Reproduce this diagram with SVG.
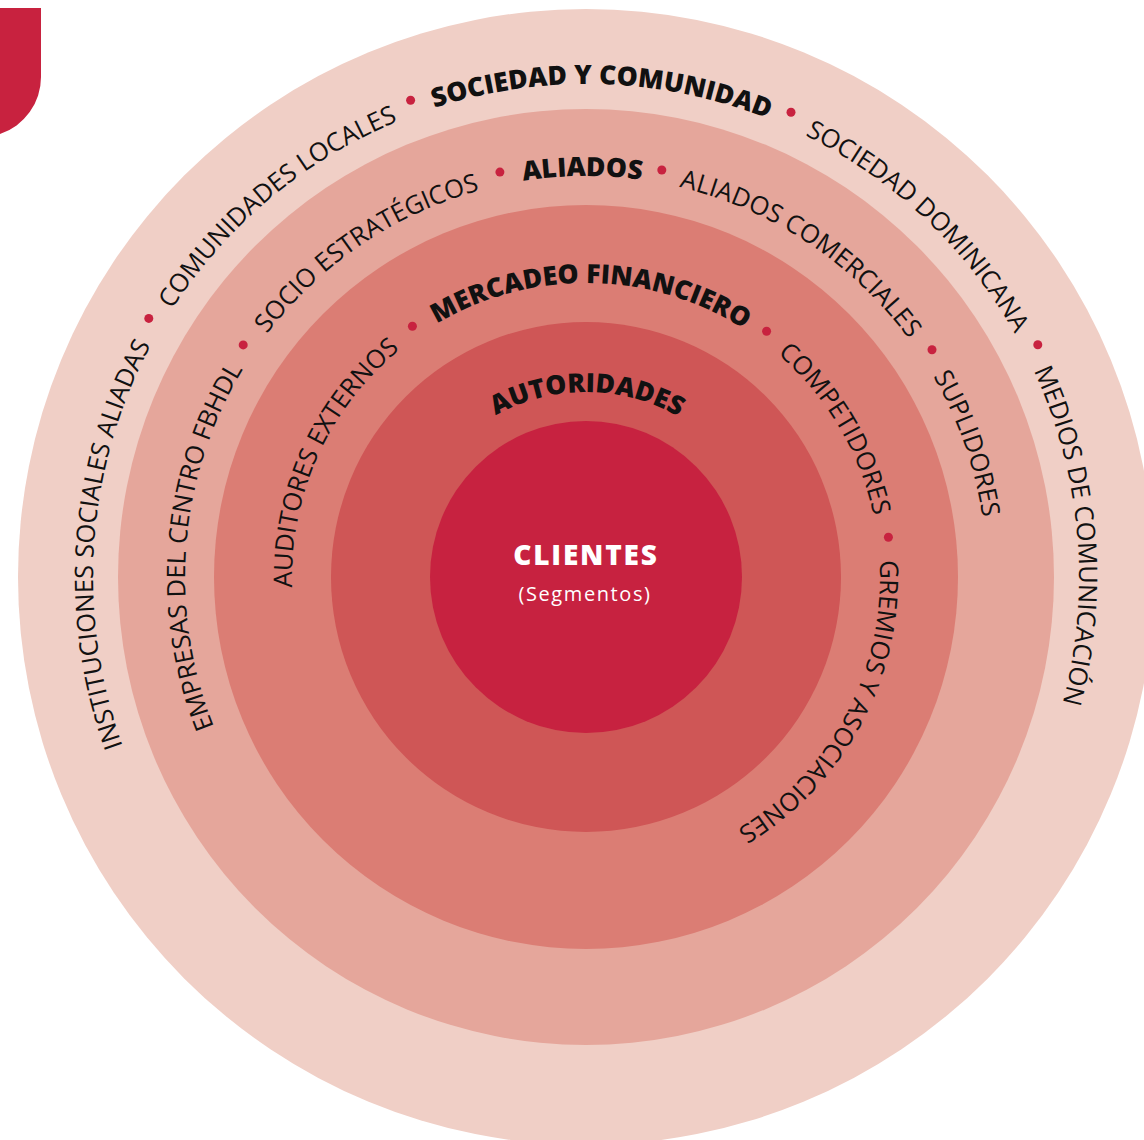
<svg xmlns="http://www.w3.org/2000/svg" xmlns:xlink="http://www.w3.org/1999/xlink" width="1144" height="1140" viewBox="0 0 1144 1140">
<style>
.lbl{font-family:"Open Sans","Liberation Sans",sans-serif;font-size:25.5px;fill:#111;}
.b{font-weight:800;font-size:26.5px;}
.dot{fill:#C8223F;}
</style>
<defs>
<path id="p1" d="M586,1070 A493,493 0 1 1 586,84 A493,493 0 1 1 586,1070"/>
<path id="p2" d="M586,978 A401,401 0 1 1 586,176 A401,401 0 1 1 586,978"/>
<path id="p3" d="M586,871 A294,294 0 1 1 586,283 A294,294 0 1 1 586,871"/>
<path id="p4" d="M586,762 A185,185 0 1 1 586,392 A185,185 0 1 1 586,762"/>
</defs>
<rect width="1144" height="1140" fill="#fff"/>
<path id="corner" d="M0,8 H41 V77 A60,60 0 0 1 0,134 Z" fill="#C8223F"/>
<g id="rings">
<circle cx="586" cy="577" r="568" fill="#F0CFC6"/>
<circle cx="586" cy="577" r="468" fill="#E5A69B"/>
<circle cx="586" cy="577" r="372" fill="#DB7D74"/>
<circle cx="586" cy="577" r="255" fill="#CF5656"/>
<circle cx="586" cy="577" r="156" fill="#C72240"/>
</g>
<g id="ring1">
<text class="lbl" text-anchor="middle"><textPath xlink:href="#p1" startOffset="808.8">INSTITUCIONES SOCIALES ALIADAS</textPath></text>
<text class="lbl" text-anchor="middle"><textPath xlink:href="#p1" startOffset="1206.4">COMUNIDADES LOCALES</textPath></text>
<text class="lbl b" text-anchor="middle"><textPath xlink:href="#p1" startOffset="1564.7">SOCIEDAD Y COMUNIDAD</textPath></text>
<text class="lbl" text-anchor="middle"><textPath xlink:href="#p1" startOffset="1922.2">SOCIEDAD DOMINICANA</textPath></text>
<text class="lbl" text-anchor="middle"><textPath xlink:href="#p1" startOffset="2280.2">MEDIOS DE COMUNICACIÓN</textPath></text>
<circle class="dot" cx="148.8" cy="318.4" r="4.5"/>
<circle class="dot" cx="410.6" cy="100.2" r="4.5"/>
<circle class="dot" cx="791.0" cy="112.2" r="4.5"/>
<circle class="dot" cx="1037.8" cy="344.8" r="4.5"/>
</g>
<g id="ring2">
<text class="lbl" text-anchor="middle"><textPath xlink:href="#p2" startOffset="662.1">EMPRESAS DEL CENTRO FBHDL</textPath></text>
<text class="lbl" text-anchor="middle"><textPath xlink:href="#p2" startOffset="1021.1">SOCIO ESTRATÉGICOS</textPath></text>
<text class="lbl b" text-anchor="middle"><textPath xlink:href="#p2" startOffset="1255.6">ALIADOS</textPath></text>
<text class="lbl" text-anchor="middle"><textPath xlink:href="#p2" startOffset="1493.9">ALIADOS COMERCIALES</textPath></text>
<text class="lbl" text-anchor="middle"><textPath xlink:href="#p2" startOffset="1753.9">SUPLIDORES</textPath></text>
<circle class="dot" cx="243.2" cy="344.9" r="4.5"/>
<circle class="dot" cx="499.9" cy="172.1" r="4.5"/>
<circle class="dot" cx="661.8" cy="170.0" r="4.5"/>
<circle class="dot" cx="932.0" cy="349.7" r="4.5"/>
</g>
<g id="ring3">
<text class="lbl" text-anchor="middle"><textPath xlink:href="#p3" startOffset="586.5">AUDITORES EXTERNOS</textPath></text>
<text class="lbl b" text-anchor="middle"><textPath xlink:href="#p3" startOffset="928.5">MERCADEO FINANCIERO</textPath></text>
<text class="lbl" text-anchor="middle"><textPath xlink:href="#p3" startOffset="1227.4">COMPETIDORES</textPath></text>
<text class="lbl" text-anchor="middle"><textPath xlink:href="#p3" startOffset="1528.1">GREMIOS Y ASOCIACIONES</textPath></text>
<circle class="dot" cx="412.4" cy="326.3" r="4.5"/>
<circle class="dot" cx="766.6" cy="331.2" r="4.5"/>
<circle class="dot" cx="888.4" cy="537.2" r="4.5"/>
</g>
<g id="ring4">
<text class="lbl b" text-anchor="middle"><textPath xlink:href="#p4" startOffset="582.2">AUTORIDADES</textPath></text>
</g>
<g id="center">
<text x="586" y="565" text-anchor="middle" font-family="Open Sans, Liberation Sans, sans-serif" font-weight="800" font-size="28" letter-spacing="1.8" fill="#fff">CLIENTES</text>
<text x="585" y="601" text-anchor="middle" font-family="Open Sans, Liberation Sans, sans-serif" font-size="20" letter-spacing="1.6" fill="#fff">(Segmentos)</text>
</g>
</svg>
